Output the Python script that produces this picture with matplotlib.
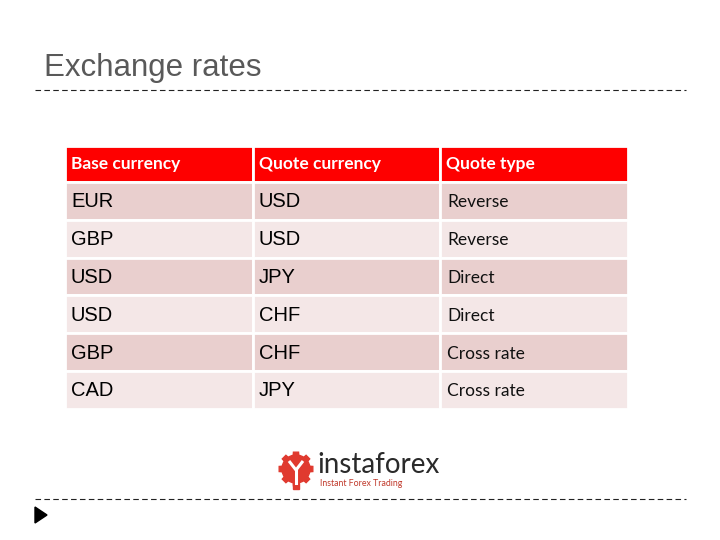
import numpy as np
import matplotlib.pyplot as plt
from matplotlib.patches import Rectangle, Polygon, Circle

title = "Exchange rates"
headers = ["Base currency", "Quote currency", "Quote type"]
base_ccy = ["EUR", "GBP", "USD", "USD", "GBP", "CAD"]
quote_ccy = ["USD", "USD", "JPY", "CHF", "CHF", "JPY"]
quote_type = ["Reverse", "Reverse", "Direct", "Direct", "Cross rate", "Cross rate"]

# layout in pixels (figure is 720x540)
tbl_left, tbl_right = 65, 628
tbl_top = 146
head_h = 36
row_h = 37.8
header_color = "#fe0000"
row_colors = ["#e9cfce", "#f4e7e7"]

fig = plt.figure(figsize=(7.2, 5.4), dpi=100)
ax = fig.add_axes([0, 0, 1, 1])
ax.set_xlim(0, 720)
ax.set_ylim(540, 0)
ax.axis("off")

# title + dashed rules
ax.text(44, 68, title, fontsize=22.5, color="#595959", family="Liberation Sans",
        va="center", ha="left")
ax.plot([35, 686], [90, 90], color="#222222", lw=0.8, dashes=(5, 3))
ax.plot([35, 686], [499, 499], color="#222222", lw=0.8, dashes=(5, 3))
ax.add_patch(Polygon([[35, 507], [35, 523], [47, 515]], closed=True,
                     color="black"))

# table
col_w = (tbl_right - tbl_left) / 3
columns = [base_ccy, quote_ccy, quote_type]
for j, h in enumerate(headers):
    x0 = tbl_left + j * col_w
    ax.add_patch(Rectangle((x0, tbl_top), col_w, head_h, facecolor=header_color,
                           edgecolor="white", lw=2))
    ax.text(x0 + 6, tbl_top + head_h / 2 + 0.5, h, color="white", fontsize=12.5,
            fontweight="bold", family="Lato", va="center", ha="left")

for i in range(len(base_ccy)):
    y0 = tbl_top + head_h + i * row_h
    for j, col in enumerate(columns):
        x0 = tbl_left + j * col_w
        ax.add_patch(Rectangle((x0, y0), col_w, row_h,
                               facecolor=row_colors[i % 2],
                               edgecolor="white", lw=2))
        if j < 2:
            ax.text(x0 + 6, y0 + row_h / 2 + 1, col[i], color="black",
                    fontsize=14.5, family="Liberation Sans", va="center",
                    ha="left")
        else:
            ax.text(x0 + 7, y0 + row_h / 2 + 1.5, col[i], color="#111111",
                    fontsize=12.5, family="Lato", va="center", ha="left")

# logo: gear icon
cx, cy, r_out, r_in = 296, 469, 17, 13
n_teeth = 8
pts = []
for k in range(n_teeth):
    a0 = 2 * np.pi * k / n_teeth
    for da, r in [(-0.22, r_in), (-0.15, r_out), (0.15, r_out), (0.22, r_in)]:
        a = a0 + da
        pts.append([cx + r * np.cos(a), cy + r * np.sin(a)])
ax.add_patch(Polygon(pts, closed=True, color="#e03a2f"))
ax.add_patch(Circle((cx, cy), 14, color="#e03a2f"))
ax.plot([cx - 7, cx, cx + 7], [cy - 8, cy + 1, cy - 8], color="white", lw=2.2,
        solid_capstyle="butt")
ax.add_patch(Rectangle((cx - 3, cy + 14), 6, 6, color="#e03a2f"))
ax.plot([cx, cx], [cy + 1, cy + 14], color="white", lw=2.2)

ax.text(317, 465, "instaforex", fontsize=20, color="#2a2a2a", family="Lato",
        va="center", ha="left")
ax.text(320, 483, "Instant Forex Trading", fontsize=6.3, color="#c0392b",
        family="Lato", va="center", ha="left")

fig.savefig("out.png", dpi=100)
